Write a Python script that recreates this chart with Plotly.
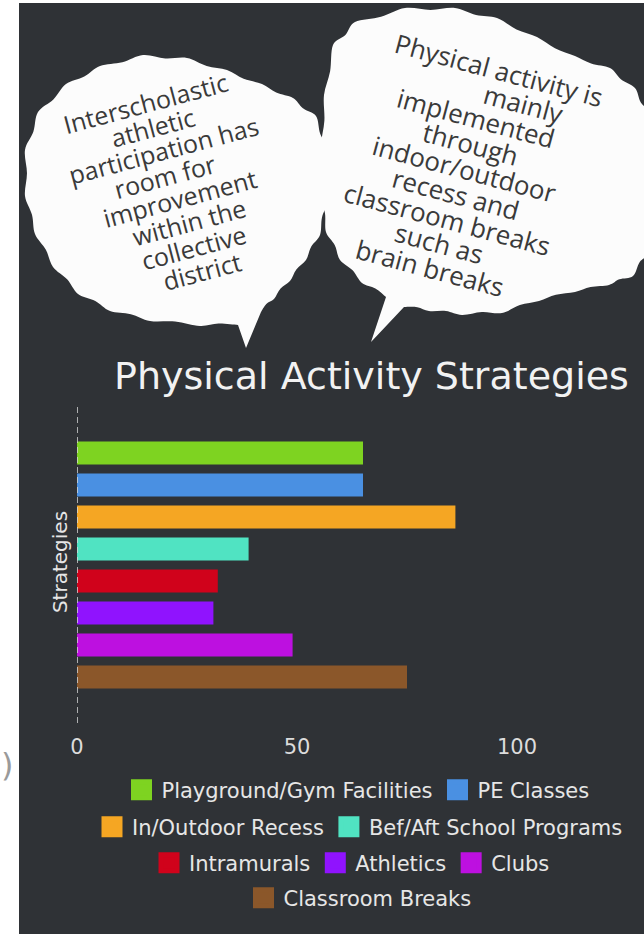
import math
import plotly.graph_objects as go

W, H = 644, 934

# ---- data -------------------------------------------------------------
categories = ["Strategies"]
strategies = [
    "Playground/Gym Facilities",
    "PE Classes",
    "In/Outdoor Recess",
    "Bef/Aft School Programs",
    "Intramurals",
    "Athletics",
    "Clubs",
    "Classroom Breaks",
]
values = [65, 65, 86, 39, 32, 31, 49, 75]
colors = ["#7ED321", "#4A90E2", "#F5A623", "#50E3C2",
          "#D0021B", "#9013FE", "#BD10E0", "#8B572A"]
legend_rows = ["legend", "legend", "legend2", "legend2",
               "legend3", "legend3", "legend3", "legend4"]
x_ticks = [0, 50, 100]

chart_title = "Physical Activity Strategies"
left_quote = ["Interscholastic", "athletic", "participation has", "room for",
              "improvement", "within the", "collective", "district"]
right_quote = ["Physical activity is", "mainly", "implemented", "through",
               "indoor/outdoor", "recess and", "classroom breaks", "such as",
               "brain breaks"]

# ---- helpers: pixel -> paper -----------------------------------------
def fx(x):
    return x / W


def fy(y):
    return 1 - y / H


def bubble_path(outline, tip, wave=2.0):
    """Closed speech-bubble outline: smooth wavy body + pointed tail."""
    cx = sum(p[0] for p in outline) / len(outline)
    cy = sum(p[1] for p in outline) / len(outline)
    pts = []
    for i in range(len(outline) - 1):
        a, b = outline[i], outline[i + 1]
        pts.append(a)
        mx, my = (a[0] + b[0]) / 2, (a[1] + b[1]) / 2
        dx, dy = cx - mx, cy - my
        d = (dx * dx + dy * dy) ** 0.5 or 1
        pts.append((mx + wave * dx / d, my + wave * dy / d))
    pts.append(outline[-1])
    n = len(pts)
    s = [f"M{fx(pts[0][0]):.5f},{fy(pts[0][1]):.5f}"]
    for i in range(n - 1):
        p0 = pts[max(i - 1, 0)]
        p1, p2 = pts[i], pts[i + 1]
        p3 = pts[min(i + 2, n - 1)]
        c1 = (p1[0] + (p2[0] - p0[0]) / 6, p1[1] + (p2[1] - p0[1]) / 6)
        c2 = (p2[0] - (p3[0] - p1[0]) / 6, p2[1] - (p3[1] - p1[1]) / 6)
        s.append(f"C{fx(c1[0]):.5f},{fy(c1[1]):.5f} "
                 f"{fx(c2[0]):.5f},{fy(c2[1]):.5f} "
                 f"{fx(p2[0]):.5f},{fy(p2[1]):.5f}")
    s.append(f"L{fx(tip[0]):.5f},{fy(tip[1]):.5f} Z")
    return " ".join(s)


def text_block(first, last, n, angle, shifts):
    """Centres of n rotated, centred lines running from first to last,
    with an optional shift of each line along its own baseline."""
    t = math.tan(math.radians(angle))
    out = []
    for i in range(n):
        f = i / (n - 1)
        x = first[0] + f * (last[0] - first[0])
        y = first[1] + f * (last[1] - first[1])
        out.append((x + shifts[i], y + shifts[i] * t))
    return out


# ---- figure -----------------------------------------------------------
fig = go.Figure()

for name, val, col, leg in zip(strategies, values, colors, legend_rows):
    fig.add_trace(go.Bar(
        y=categories, x=[val], orientation="h", name=name,
        marker=dict(color=col, line=dict(width=0)),
        legendgroup=name, showlegend=False, hoverinfo="skip",
    ))
    # legend swatch (larger square than the default bar icon)
    fig.add_trace(go.Scatter(
        x=[None], y=[None], mode="markers", name=name,
        marker=dict(symbol="square", size=16, color=col,
                    line=dict(color=col, width=5)),
        legendgroup=name, legend=leg, showlegend=True, hoverinfo="skip",
    ))

shapes = []
# dark panel
shapes.append(dict(type="rect", xref="paper", yref="paper",
                   x0=fx(19), x1=1, y0=0, y1=fy(3),
                   fillcolor="#2f3236", line=dict(width=0), layer="below"))

left_outline = [(238, 325), (200, 326), (150, 321), (110, 311), (78, 294),
                (53, 267), (35, 234), (25, 196), (25, 150), (38, 112),
                (66, 84), (100, 66), (143, 55), (187, 58), (227, 70),
                (262, 84), (293, 98), (316, 116), (328, 150), (328, 200),
                (320, 235), (306, 260), (290, 281), (274, 299), (261, 312)]
right_outline = [(386, 297), (362, 283), (340, 260), (326, 232), (320, 195),
                 (321, 145), (324, 95), (333, 45), (355, 22), (405, 8),
                 (455, 8), (497, 18), (537, 37), (575, 56), (610, 68),
                 (635, 88), (650, 115), (653, 180), (650, 250), (633, 276),
                 (609, 285), (575, 292), (539, 301), (502, 313), (462, 315),
                 (429, 311), (404, 307)]
for outline, tip in ((left_outline, (246, 348)), (right_outline, (371, 342))):
    shapes.append(dict(type="path", xref="paper", yref="paper",
                       path=bubble_path(outline, tip),
                       fillcolor="#fcfcfc", line=dict(width=0), layer="below"))

# dashed axis line at zero
shapes.append(dict(type="line", xref="x", yref="y domain",
                   x0=0, x1=0, y0=0, y1=1,
                   line=dict(color="#d9d9d9", width=1.5, dash="6px,4px"),
                   layer="above"))

annotations = []
# chart title
annotations.append(dict(text=chart_title, xref="paper", yref="paper",
                        x=fx(371), y=fy(376), xanchor="center", yanchor="middle",
                        showarrow=False,
                        font=dict(family="DejaVu Sans", size=38, color="#f2f2f2")))

left_centers = text_block((145, 103), (202, 271), len(left_quote), -15,
                          [0, 0, 2, -4, 2, 3, 0, 0])
right_centers = text_block((499, 70), (430, 268), len(right_quote), 15,
                           [0, 34, -6, -2, 0, 0, 0, 0, 0])
for lines, centers, ang, size in ((left_quote, left_centers, -15, 25),
                                  (right_quote, right_centers, 15, 26)):
    for txt, (cx, cy) in zip(lines, centers):
        annotations.append(dict(text=txt, xref="paper", yref="paper",
                                x=fx(cx), y=fy(cy), xanchor="center",
                                yanchor="middle", textangle=ang,
                                showarrow=False,
                                font=dict(family="Open Sans", size=size,
                                          color="#3a3a3a")))

# bracket at the left margin
annotations.append(dict(text=")", xref="paper", yref="paper",
                        x=0, y=fy(765), xanchor="left", yanchor="middle",
                        showarrow=False, borderpad=0,
                        font=dict(family="DejaVu Sans", size=32, color="#9a9a9a")))

legend_style = dict(orientation="h", xanchor="center", yanchor="middle",
                    bgcolor="rgba(0,0,0,0)", borderwidth=0,
                    itemwidth=30, tracegroupgap=0,
                    itemclick=False, itemdoubleclick=False,
                    font=dict(family="DejaVu Sans", size=21, color="#e6e6e6"))

fig.update_layout(
    width=W, height=H, autosize=False,
    margin=dict(l=0, r=0, t=0, b=0),
    paper_bgcolor="#ffffff", plot_bgcolor="rgba(0,0,0,0)",
    barmode="group", bargap=0.19, bargroupgap=0.28,
    shapes=shapes, annotations=annotations,
    legend=dict(x=fx(358), y=fy(790), **legend_style),
    legend2=dict(x=fx(360), y=fy(827), **legend_style),
    legend3=dict(x=fx(352), y=fy(863), **legend_style),
    legend4=dict(x=fx(360), y=fy(898), **legend_style),
    hovermode=False,
    xaxis=dict(domain=[fx(77), fx(627)], range=[0, 125], tickvals=x_ticks,
               showgrid=False, zeroline=False, showline=False,
               ticks="outside", ticklen=5, tickcolor="rgba(0,0,0,0)",
               tickfont=dict(family="DejaVu Sans", size=21, color="#dcdcdc"),
               automargin=False, fixedrange=True),
    yaxis=dict(domain=[fy(723), fy(407)], type="category",
               range=[0.5, -0.5], tickangle=-90,
               showgrid=False, zeroline=False, showline=False,
               ticks="outside", ticklen=1, tickcolor="rgba(0,0,0,0)",
               tickfont=dict(family="DejaVu Sans", size=20, color="#e6e6e6"),
               automargin=False, fixedrange=True),
)

fig.write_html("out.html", config={"displayModeBar": False})
